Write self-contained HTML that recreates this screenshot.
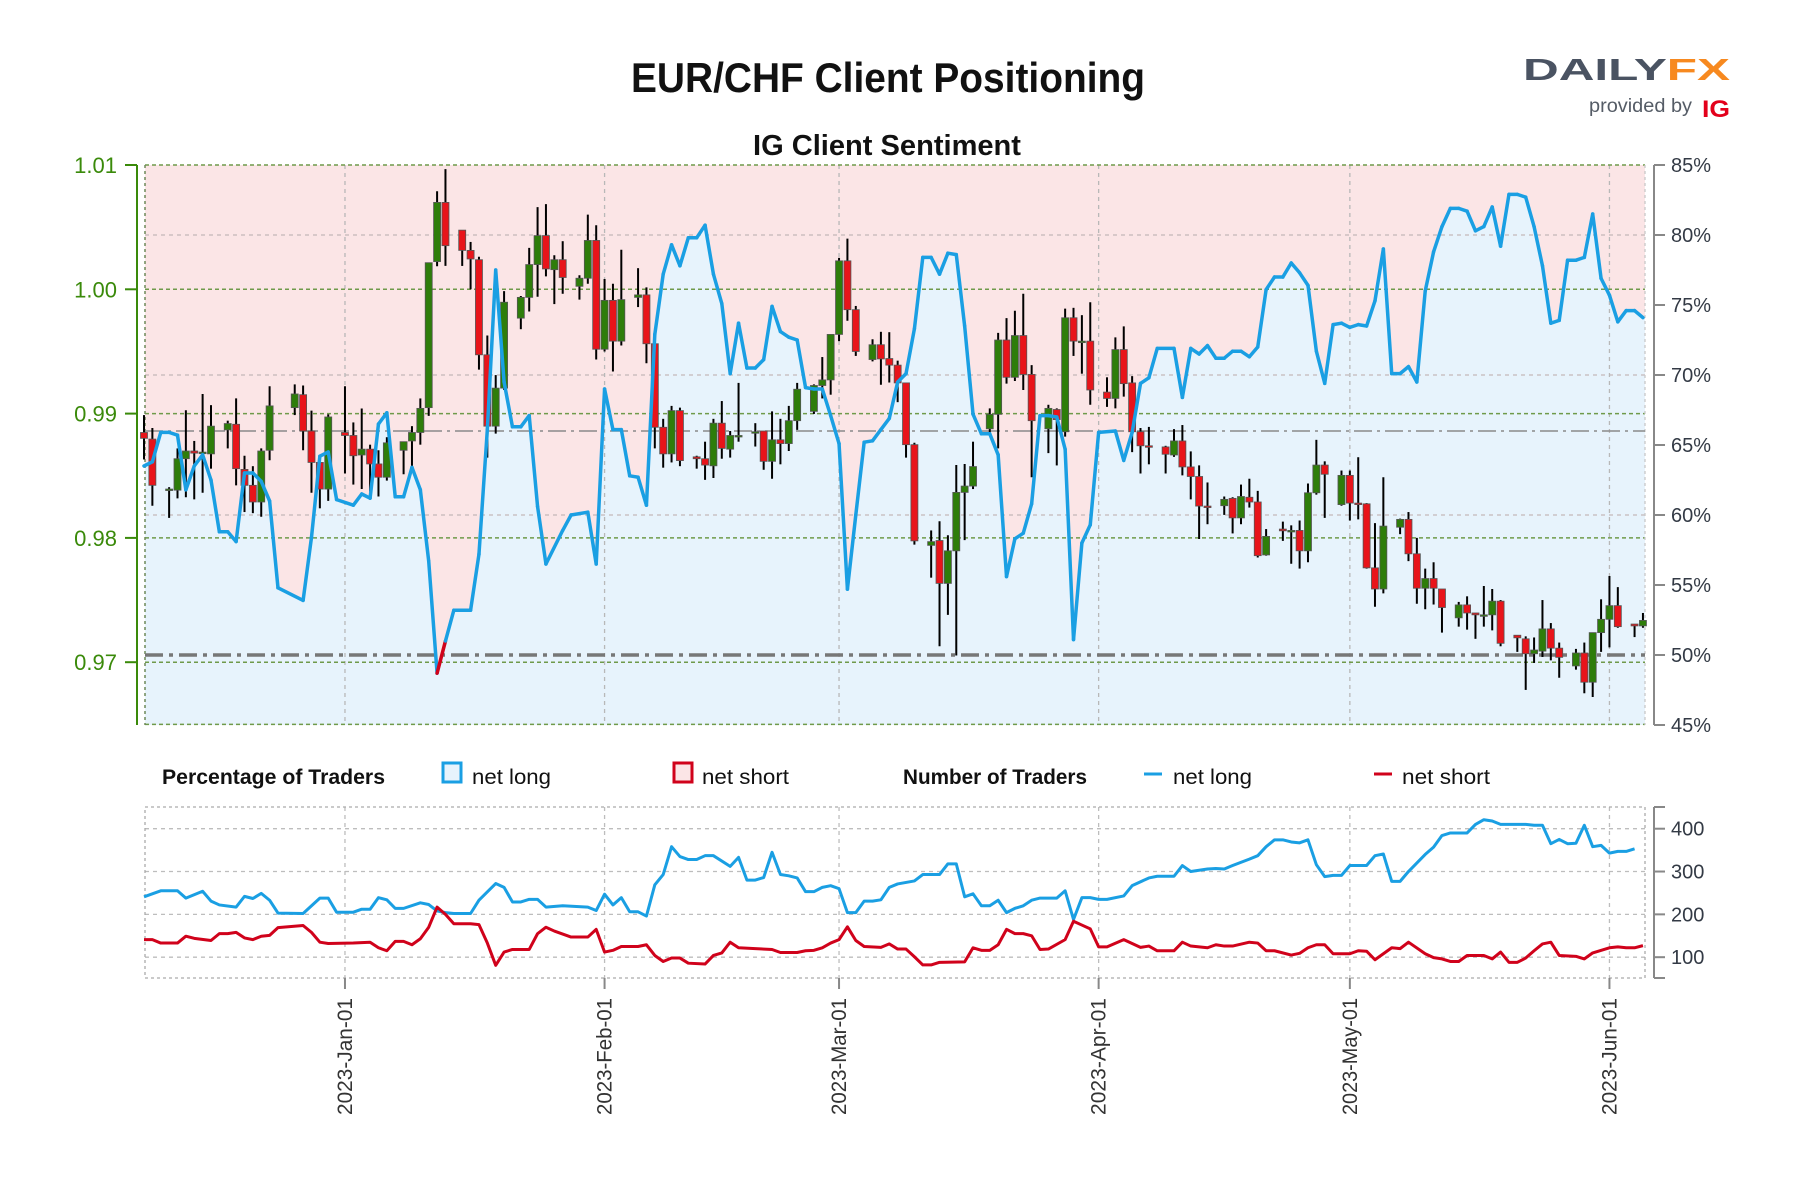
<!DOCTYPE html>
<html><head><meta charset="utf-8"><title>EUR/CHF Client Positioning</title>
<style>
html,body{margin:0;padding:0;background:#fff;}
svg{display:block;font-family:"Liberation Sans",sans-serif;}
</style></head>
<body>
<svg id="chart" width="1800" height="1200" viewBox="0 0 1800 1200" xmlns="http://www.w3.org/2000/svg">
  <rect width="1800" height="1200" fill="#fff"/>
  <text x="888" y="92" text-anchor="middle" font-size="42" font-weight="bold" fill="#111" textLength="514" lengthAdjust="spacingAndGlyphs">EUR/CHF Client Positioning</text>
  <text x="887" y="155" text-anchor="middle" font-size="29" font-weight="bold" fill="#111" textLength="268" lengthAdjust="spacingAndGlyphs">IG Client Sentiment</text>
  <g>
    <text x="1523" y="80" font-size="31" font-weight="bold" fill="#4a5362" textLength="207" lengthAdjust="spacingAndGlyphs">DAILY<tspan fill="#f7891f">FX</tspan></text>
    <text x="1589" y="112" font-size="19" fill="#555c66" textLength="103" lengthAdjust="spacingAndGlyphs">provided by</text>
    <text x="1702" y="117" font-size="24" font-weight="bold" fill="#e3001b" textLength="28" lengthAdjust="spacingAndGlyphs">IG</text>
  </g>
  <g id="main"></g>
  <g id="legend" transform="translate(0,-4)">
    <text x="162" y="788" font-size="21" font-weight="bold" fill="#111" textLength="223" lengthAdjust="spacingAndGlyphs">Percentage of Traders</text>
    <rect x="443" y="767" width="18" height="19" fill="#e7f3fc" stroke="#1a9fe3" stroke-width="3"/>
    <text x="472" y="788" font-size="21" fill="#111" textLength="79" lengthAdjust="spacingAndGlyphs">net long</text>
    <rect x="674" y="767" width="18" height="19" fill="#fbe5e6" stroke="#d0021b" stroke-width="3"/>
    <text x="702" y="788" font-size="21" fill="#111" textLength="87" lengthAdjust="spacingAndGlyphs">net short</text>
    <text x="903" y="788" font-size="21" font-weight="bold" fill="#111" textLength="184" lengthAdjust="spacingAndGlyphs">Number of Traders</text>
    <line x1="1144" y1="778" x2="1162" y2="778" stroke="#1a9fe3" stroke-width="3"/>
    <text x="1173" y="788" font-size="21" fill="#111" textLength="79" lengthAdjust="spacingAndGlyphs">net long</text>
    <line x1="1374" y1="778" x2="1392" y2="778" stroke="#d0021b" stroke-width="3"/>
    <text x="1402" y="788" font-size="21" fill="#111" textLength="88" lengthAdjust="spacingAndGlyphs">net short</text>
  </g>
  <g id="lower"></g>
  <g id="dates"></g>
</svg>
<script>
// ---- data ----
const candleDays=[0,1,3,4,5,6,7,8,10,11,12,13,14,15,18,19,20,21,22,24,25,26,27,28,29,31,32,33,34,35,36,38,39,40,41,42,43,45,46,47,48,49,50,52,53,54,55,56,57,59,60,61,62,63,64,66,67,68,69,70,71,73,74,75,76,77,78,80,81,82,83,84,85,87,88,89,90,91,92,94,95,96,97,98,99,101,102,103,104,105,106,108,109,110,111,112,113,115,116,117,118,119,120,122,123,124,125,126,127,129,130,131,132,133,134,136,137,138,139,140,141,143,144,145,146,147,148,150,151,152,153,154,155,157,158,159,160,161,162,164,165,166,167,168,169,171,172,173,174,175,176,178,179];
const opens=[.98848,.98795,.98393,.98384,.98637,.98699,.98690,.98676,.98869,.98914,.98551,.98423,.98289,.98705,.99048,.99152,.98860,.98607,.98393,.98848,.98824,.98667,.98714,.98595,.98488,.98705,.98780,.98848,.99048,1.00223,1.00699,1.00476,1.00313,1.00238,.99473,.98899,.99205,.99768,.99935,1.00199,1.00432,1.00158,1.00238,1.00024,1.00089,1.00393,.99518,.99911,.99583,.99935,.99955,.99562,.98890,.98676,.99024,.98652,.98637,.98580,.98923,.98714,.98824,.98854,.98860,.98616,.98789,.98759,.98943,.99018,.99226,.99271,.99637,1.00229,.99836,.99435,.99554,.99443,.99390,.99247,.98750,.97940,.97979,.97634,.97896,.98366,.98417,.98878,.98994,.99592,.99292,.99628,.99315,.98878,.99033,.98854,.99771,.99583,.99583,.99173,.99122,.99515,.99247,.98854,.98741,.98732,.98667,.98780,.98571,.98494,.98256,.98259,.98318,.98161,.98327,.98289,.97863,.98071,.98060,.98060,.97896,.98363,.98586,.98268,.98503,.98280,.98274,.97759,.97589,.98086,.98149,.97872,.97595,.97673,.97589,.97357,.97461,.97396,.97381,.97381,.97491,.97217,.97188,.97068,.97089,.97268,.97113,.96970,.97074,.96839,.97238,.97345,.97455,.97307,.97292];
const highs=[.98988,.98884,.98408,.98720,.99027,.98780,.99158,.99068,.98943,.99122,.98661,.98577,.98720,.99220,.99235,.99226,.99024,.98610,.98994,.99220,.98929,.99041,.98750,.98705,.98810,.98774,.98899,.99122,1.00214,1.00789,1.00967,1.00476,1.00381,1.00262,.99628,.99310,.99985,.99946,1.00333,1.00661,1.00685,1.00274,1.00387,1.00113,1.00601,1.00515,1.00083,1.00045,1.00318,1.00170,1.00015,.99562,.98958,.99062,.99048,.98661,.98774,.98958,.99101,.98860,.99247,.98923,.98860,.99018,.98958,.99062,.99247,.99235,.99455,.99637,1.00253,1.00408,.99866,.99598,.99658,.99655,.99426,.99247,.98765,.98060,.98134,.98021,.98586,.98595,.98774,.99042,.99649,.99768,.99827,.99964,.99390,.99071,.99042,.99845,.99851,.99792,.99896,.99292,.99613,.99702,.99301,.98884,.98893,.98741,.98875,.98908,.98696,.98583,.98446,.98333,.98327,.98429,.98476,.98378,.98071,.98131,.98101,.98140,.98438,.98789,.98616,.98542,.98542,.98649,.98280,.98119,.98488,.98155,.98208,.98000,.97753,.97804,.97589,.97485,.97530,.97396,.97613,.97589,.97500,.97217,.97208,.97199,.97500,.97315,.97158,.97107,.97158,.97238,.97506,.97693,.97604,.97307,.97396];
const lows=[.98631,.98259,.98161,.98318,.98327,.98310,.98363,.98557,.98720,.98423,.98208,.98199,.98170,.98625,.98988,.98705,.98363,.98238,.98298,.98518,.98429,.98393,.98372,.98333,.98461,.98512,.98577,.98750,.98982,1.00185,1.00188,1.00188,1.00000,.99354,.98646,.98839,.99190,.99679,.99821,.99940,1.00104,.99881,.99964,.99917,1.00045,.99435,.99500,.99339,.99548,.99857,.99405,.98720,.98565,.98607,.98577,.98557,.98467,.98482,.98637,.98646,.98774,.98735,.98548,.98476,.98592,.98699,.98869,.98997,.99122,.99152,.99583,.99747,.99464,.99420,.99232,.99250,.99092,.98646,.97946,.97680,.97128,.97381,.97054,.97982,.98393,.98833,.98720,.99241,.99262,.99190,.98488,.98682,.98583,.98815,.99464,.99321,.99071,.99054,.99042,.99137,.98690,.98518,.98592,.98518,.98652,.98503,.98310,.97991,.98110,.98185,.98036,.98110,.98244,.97842,.97857,.97976,.97792,.97753,.97804,.98348,.98161,.98259,.98140,.98149,.97753,.97446,.97554,.98030,.97813,.97470,.97426,.97464,.97238,.97286,.97262,.97188,.97286,.97256,.97128,.97083,.96777,.96994,.97042,.97015,.96875,.96940,.96750,.96720,.97083,.97119,.97277,.97202,.97277];
const closes=[.98801,.98423,.98393,.98637,.98699,.98682,.98690,.98899,.98920,.98557,.98423,.98289,.98699,.99062,.99158,.98860,.98607,.98393,.98973,.98824,.98661,.98714,.98595,.98488,.98765,.98774,.98848,.99042,1.00214,1.00699,1.00351,1.00313,1.00244,.99473,.98899,.99205,.99896,.99935,1.00199,1.00432,1.00164,1.00238,1.00095,1.00089,1.00393,.99518,.99911,.99583,.99917,.99955,.99562,.98890,.98676,.99024,.98622,.98637,.98586,.98923,.98720,.98824,.98824,.98854,.98616,.98789,.98759,.98943,.99196,.99226,.99271,.99637,1.00229,.99836,.99500,.99554,.99440,.99390,.99247,.98750,.97976,.97970,.97634,.97896,.98366,.98417,.98574,.98994,.99592,.99292,.99628,.99315,.98943,.99042,.98952,.99771,.99583,.99583,.99190,.99122,.99515,.99241,.98854,.98741,.98729,.98673,.98780,.98571,.98494,.98256,.98244,.98310,.98161,.98333,.98289,.97857,.98012,.98057,.98060,.97896,.98363,.98586,.98512,.98503,.98280,.98268,.97759,.97589,.98095,.98149,.97872,.97595,.97673,.97595,.97440,.97461,.97396,.97381,.97381,.97491,.97152,.97196,.97068,.97098,.97268,.97113,.97039,.97074,.96839,.97238,.97345,.97455,.97286,.97292,.97336];

const sentDays=[0,1,2,3,4,5,6,7,8,9,10,11,12,13,14,15,16,19,20,21,22,23,25,26,27,28,29,30,31,32,33,34,35,36,37,39,40,41,42,43,44,45,46,47,48,50,51,53,54,55,56,57,58,59,60,61,62,63,64,65,66,67,68,69,70,71,72,73,74,75,76,77,78,79,80,81,82,83,84,85,86,87,88,89,90,91,92,93,94,95,96,97,98,99,100,101,102,103,104,105,106,107,108,109,110,111,112,113,114,116,117,118,119,120,121,123,124,125,126,127,128,129,130,131,132,133,134,135,136,137,138,139,140,141,142,143,144,145,146,147,148,149,150,151,152,153,154,155,156,157,158,159,160,161,162,163,164,165,166,167,168,169,170,171,172,173,174,175,176,177,178,179];
const sentValues=[63.5,63.8,65.9,65.9,65.7,61.8,63.5,64.3,62.5,58.8,58.8,58.1,63.0,63.0,62.4,61.0,54.8,53.9,58.4,64.2,64.5,61.1,60.7,61.5,61.2,66.5,67.3,61.3,61.3,63.4,61.8,56.7,48.7,51.0,53.2,53.2,57.2,66.1,77.5,69.5,66.3,66.3,67.1,60.6,56.5,58.9,60.0,60.2,56.5,69.0,66.1,66.1,62.8,62.7,60.7,72.9,77.2,79.3,77.8,79.8,79.8,80.7,77.2,75.1,70.1,73.7,70.5,70.5,71.1,74.9,73.1,72.7,72.5,69.1,69.0,69.0,67.1,65.1,54.7,60.0,65.2,65.3,66.1,66.9,69.5,70.1,73.3,78.4,78.4,77.2,78.7,78.6,73.5,67.2,65.8,65.8,64.3,55.6,58.3,58.7,60.8,67.1,67.1,67.0,64.7,51.1,58.0,59.3,65.9,66.0,63.9,65.9,69.4,69.8,71.9,71.9,68.4,71.9,71.5,72.1,71.2,71.2,71.7,71.7,71.3,72.0,76.1,77.0,77.0,78.0,77.3,76.4,71.7,69.4,73.6,73.7,73.4,73.6,73.5,75.3,79.0,70.1,70.1,70.6,69.5,76.0,78.8,80.6,81.9,81.9,81.7,80.3,80.6,82.0,79.2,82.9,82.9,82.7,80.6,77.8,73.7,73.9,78.2,78.2,78.4,81.5,76.9,75.7,73.8,74.6,74.6,74.1];

const longDays=[0,2,4,5,7,8,9,11,12,13,14,15,16,19,21,22,23,25,26,27,28,29,30,31,33,34,35,36,37,39,40,42,43,44,45,46,47,48,50,53,54,55,56,57,58,59,60,61,62,63,64,65,66,67,68,70,71,72,73,74,75,76,77,78,79,80,81,82,83,84,85,86,87,88,89,90,92,93,95,96,97,98,99,100,101,102,103,104,105,106,107,109,110,111,112,113,114,115,117,118,120,121,123,124,125,127,128,129,130,132,133,134,135,136,137,138,139,140,141,142,143,144,146,147,148,149,150,151,153,154,155,156,158,159,160,161,162,165,166,167,168,169,170,171,172,173,174,175,176,177,178];
const longCounts=[241,255,255,238,254,231,222,217,242,237,249,233,203,202,238,238,205,205,212,212,239,234,214,214,227,223,208,204,202,202,233,272,263,229,229,235,235,217,220,217,209,247,222,239,206,206,196,269,293,358,335,328,328,337,337,312,333,280,280,286,345,293,290,285,253,253,263,267,260,204,204,231,231,234,263,271,278,293,293,318,318,241,248,220,220,233,204,214,220,233,238,238,255,188,239,239,235,235,243,267,285,289,289,314,300,306,307,306,314,329,337,358,374,374,369,367,374,316,288,291,291,314,314,337,341,277,277,300,340,357,384,390,390,410,421,418,410,410,408,408,365,375,365,366,408,358,361,343,347,347,353];
const shortDays=[0,1,2,4,5,6,8,9,10,11,12,13,14,15,16,19,20,21,22,25,27,28,29,30,31,32,33,34,35,36,37,39,40,41,42,43,44,46,47,48,49,51,53,54,55,56,57,59,60,61,62,63,64,65,67,68,69,70,71,73,75,76,78,79,80,81,82,83,84,85,86,88,89,90,91,92,93,94,95,98,99,100,101,102,103,104,105,106,107,108,110,111,112,113,114,115,117,118,119,120,121,123,124,125,127,128,129,130,132,133,134,135,137,138,139,140,141,142,144,145,146,147,149,150,151,153,154,155,156,157,158,160,161,162,163,164,165,166,167,168,169,171,172,173,175,176,177,178,179];
const shortCounts=[141,141,133,133,149,144,139,155,155,158,145,141,149,151,169,174,158,135,132,133,135,122,115,137,137,129,143,170,217,200,178,178,176,133,81,112,118,118,155,170,161,147,147,165,112,116,125,125,129,104,90,98,98,86,84,104,110,135,122,120,118,111,111,115,116,122,133,141,171,139,125,123,131,119,119,101,82,82,88,89,122,116,116,129,165,155,155,150,118,119,141,184,175,166,124,124,141,132,123,126,115,115,135,126,122,129,126,126,135,133,115,115,105,109,122,129,129,108,108,115,114,94,122,120,135,108,99,96,90,90,104,104,96,112,88,88,98,115,131,135,104,102,96,110,122,124,122,122,127];

const priceTicks=[1.01,1.00,0.99,0.98,0.97];
const priceTickLabels=["1.01","1.00","0.99","0.98","0.97"];
const pctTicks=[85,80,75,70,65,60,55,50,45];
const countTicks=[400,300,200,100];
const monthDays=[24,55,83,114,144,175];
const monthLabels=["2023-Jan-01","2023-Feb-01","2023-Mar-01","2023-Apr-01","2023-May-01","2023-Jun-01"];
const refPrice=0.9886;

// ---- scales ----
const NS="http://www.w3.org/2000/svg";
const X0=144, DX=8.374, PL=145, PR=1645, PT=165, PB=725, LT=807, LB=978;
function xd(d){return X0+d*DX;}
function yp(p){return PT+(1.01-p)*12430;}
function ypct(v){return PB-(v-45)*14;}
function yn(v){return 828.7-(v-400)*0.4283;}
function mk(parent,tag,attrs){const e=document.createElementNS(NS,tag);for(const k in attrs)e.setAttribute(k,attrs[k]);parent.appendChild(e);return e;}

const main=document.getElementById('main');
const bgTop=mk(main,'rect',{x:PL,y:PT,width:PR-PL,height:PB-PT,fill:'#fbe5e6'});


let areaPts=[[PL,PB],[PL,ypct(sentValues[0])]];
sentDays.forEach((d,i)=>areaPts.push([xd(d),ypct(sentValues[i])]));
areaPts.push([PR,ypct(sentValues[sentValues.length-1])],[PR,PB]);
const area=mk(main,'polygon',{points:areaPts.map(p=>p.join(',')).join(' '),fill:'#e7f3fc'});



pctTicks.forEach(v=>{ if(v===80||v===70||v===60){
  const g=mk(main,'line',{x1:PL,x2:PR,y1:ypct(v),y2:ypct(v),stroke:'#c4b8b8','stroke-width':1.3,'stroke-dasharray':'4,4'});
  
  }});
monthDays.forEach(d=>{
  const g=mk(main,'line',{x1:xd(d),x2:xd(d),y1:PT,y2:PB,stroke:'#b8b8b8','stroke-width':1.3,'stroke-dasharray':'4,4'});
  
  });
priceTicks.concat([0.965]).forEach(p=>{
  const g=mk(main,'line',{x1:PL,x2:PR,y1:yp(p),y2:yp(p),stroke:'#6f9a4a','stroke-width':1.5,'stroke-dasharray':'4,3'});
  
  });
const lb=mk(main,'line',{x1:PL,x2:PL,y1:PT,y2:PB,stroke:'#6f8a5a','stroke-width':1.5,'stroke-dasharray':'3,3'});


const rb=mk(main,'line',{x1:PR,x2:PR,y1:PT,y2:PB,stroke:'#c8c8c8','stroke-width':1.3,'stroke-dasharray':'3,3'});


const rl=mk(main,'line',{x1:PL,x2:PR,y1:yp(refPrice),y2:yp(refPrice),stroke:'#8a8a8a','stroke-width':1.5,'stroke-dasharray':'18,5,3,5'});


const fl=mk(main,'line',{x1:PL,x2:PR,y1:ypct(50),y2:ypct(50),stroke:'#777','stroke-width':3.5,'stroke-dasharray':'18,6,4,6'});



candleDays.forEach((d,i)=>{
  const x=xd(d),o=opens[i],c=closes[i];
  const w=mk(main,'line',{x1:x,x2:x,y1:yp(highs[i]),y2:yp(lows[i]),stroke:'#000','stroke-width':2});
  
  
  const top=yp(Math.max(o,c)),bot=yp(Math.min(o,c));
  const b=mk(main,'rect',{x:x-3.5,y:top,width:7,height:Math.max(bot-top,1.5),fill:c>=o?'#2e7d0a':'#e8141a',stroke:'#555','stroke-width':0.8});
  
  
});

for(let i=0;i<sentDays.length-1;i++){
  const s=mk(main,'line',{x1:xd(sentDays[i]),y1:ypct(sentValues[i]),x2:xd(sentDays[i+1]),y2:ypct(sentValues[i+1]),stroke:sentValues[i]<50?'#d0021b':'#1a9fe3','stroke-width':3.5,'stroke-linecap':'round'});
  
  
}

const la=mk(main,'line',{x1:137,x2:137,y1:PT,y2:PB,stroke:'#3a8a0a','stroke-width':2});


priceTicks.forEach((p,i)=>{
  const t=mk(main,'line',{x1:125,x2:137,y1:yp(p),y2:yp(p),stroke:'#3a8a0a','stroke-width':2});
  
  
  const l=mk(main,'text',{x:117,y:yp(p)+8,'text-anchor':'end','font-size':22,fill:'#3a8a0a'});
  l.textContent=priceTickLabels[i];
  
  
});
const ra=mk(main,'line',{x1:1654,x2:1654,y1:PT,y2:PB,stroke:'#888','stroke-width':2});


pctTicks.forEach(v=>{
  const t=mk(main,'line',{x1:1654,x2:1665,y1:ypct(v),y2:ypct(v),stroke:'#888','stroke-width':2});
  
  
  const l=mk(main,'text',{x:1671,y:ypct(v)+7,'font-size':20,fill:'#333a45'});
  l.textContent=v+'%';
  
  
});

const lower=document.getElementById('lower');
countTicks.forEach(v=>{
  const g=mk(lower,'line',{x1:PL,x2:PR,y1:yn(v),y2:yn(v),stroke:'#bdbdbd','stroke-width':1.3,'stroke-dasharray':'4,4'});
  
  
});
monthDays.forEach(d=>{
  const g=mk(lower,'line',{x1:xd(d),x2:xd(d),y1:LT,y2:LB,stroke:'#bdbdbd','stroke-width':1.3,'stroke-dasharray':'4,4'});
  
  
});
const box=mk(lower,'rect',{x:PL,y:LT,width:PR-PL,height:LB-LT,fill:'none',stroke:'#aaa','stroke-width':1.3,'stroke-dasharray':'3,3'});


const lp=mk(lower,'polyline',{points:longDays.map((d,i)=>xd(d)+','+yn(longCounts[i])).join(' '),fill:'none',stroke:'#1a9fe3','stroke-width':3,'stroke-linejoin':'round'});


const sp=mk(lower,'polyline',{points:shortDays.map((d,i)=>xd(d)+','+yn(shortCounts[i])).join(' '),fill:'none',stroke:'#d0021b','stroke-width':3,'stroke-linejoin':'round'});


const cra=mk(lower,'line',{x1:1654,x2:1654,y1:LT,y2:LB,stroke:'#888','stroke-width':2});


[LT,LB].forEach(y=>{const t=mk(lower,'line',{x1:1654,x2:1665,y1:y,y2:y,stroke:'#888','stroke-width':2});
  
  });
countTicks.forEach(v=>{
  const t=mk(lower,'line',{x1:1654,x2:1665,y1:yn(v),y2:yn(v),stroke:'#888','stroke-width':2});
  
  
  const l=mk(lower,'text',{x:1671,y:yn(v)+7,'font-size':20,fill:'#333a45'});
  l.textContent=v;
  
  
});

const dates=document.getElementById('dates');
monthDays.forEach((d,i)=>{
  const x=xd(d);
  const t=mk(dates,'line',{x1:x,x2:x,y1:LB,y2:989,stroke:'#888','stroke-width':2});
  
  
  const l=mk(dates,'text',{x:0,y:0,'text-anchor':'end','font-size':21,fill:'#333',textLength:117,lengthAdjust:'spacingAndGlyphs',transform:'translate('+(x+7)+',998) rotate(-90)'});
  l.textContent=monthLabels[i];
  
  
});
</script>
</body></html>
